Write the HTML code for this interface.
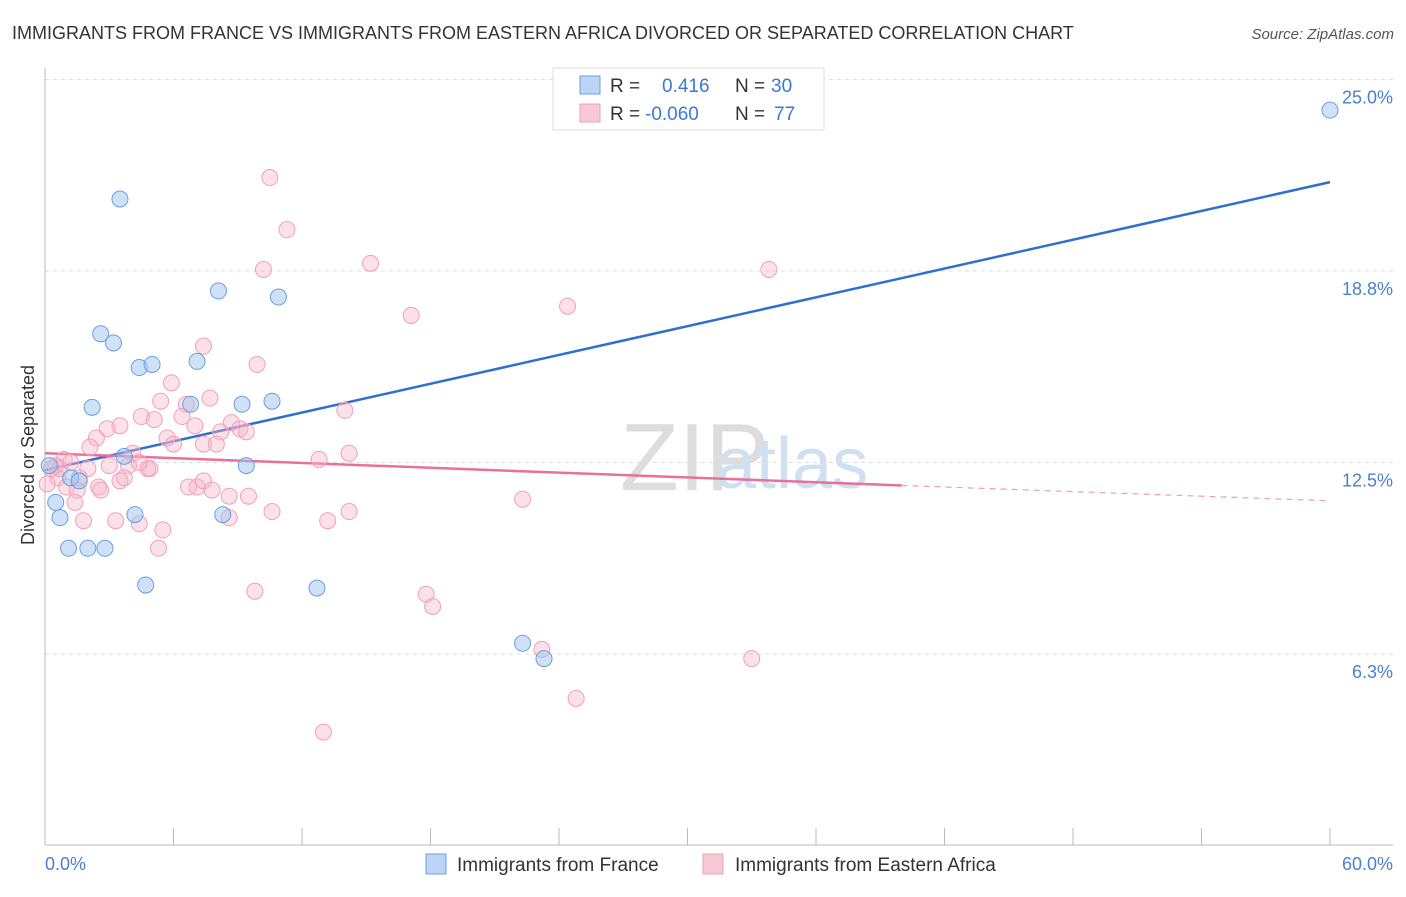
<!DOCTYPE html>
<html><head><meta charset="utf-8"><style>
body{margin:0;background:#fff;font-family:"Liberation Sans",sans-serif;}
svg text{font-family:"Liberation Sans",sans-serif;}
</style></head><body>
<svg id="chart" width="1406" height="892">
<text x="12" y="39" font-size="18" fill="#333">IMMIGRANTS FROM FRANCE VS IMMIGRANTS FROM EASTERN AFRICA DIVORCED OR SEPARATED CORRELATION CHART</text>
<text x="1394" y="39" font-size="15" fill="#555" font-style="italic" text-anchor="end">Source: ZipAtlas.com</text>
<text x="620" y="490" font-size="96" fill="#ddd" font-family="Liberation Serif">ZIP</text>
<text x="716" y="488" font-size="72" fill="#cfe0f3">atlas</text>
<g id="grid"></g><g id="axes"></g><g id="trend"></g><g id="pts"></g>
<text transform="translate(34,455) rotate(-90)" font-size="18" fill="#333" text-anchor="middle">Divorced or Separated</text>
<text x="45" y="870" font-size="18" fill="#4a7fd0">0.0%</text>
<text x="1393" y="870" font-size="18" fill="#4a7fd0" text-anchor="end">60.0%</text>
<g>
<rect x="553" y="68" width="271" height="62" fill="#fff" stroke="#ddd"/>
<rect x="580" y="76" width="20" height="18" fill="#bcd5f5" stroke="#6a9fe0"/>
<rect x="580" y="104" width="20" height="18" fill="#f9c8d6" stroke="#f0a0b8"/>
<text x="610" y="92" font-size="19" fill="#333">R = </text><text x="662" y="92" font-size="19" fill="#3a78d8">0.416</text>
<text x="735" y="92" font-size="19" fill="#333">N = </text><text x="771" y="92" font-size="19" fill="#3a78d8">30</text>
<text x="610" y="120" font-size="19" fill="#333">R = </text><text x="645" y="120" font-size="19" fill="#3a78d8">-0.060</text>
<text x="735" y="120" font-size="19" fill="#333">N = </text><text x="774" y="120" font-size="19" fill="#3a78d8">77</text>
</g>
<g>
<rect x="426" y="854" width="20" height="20" fill="#bcd5f5" stroke="#6a9fe0"/>
<text x="457" y="871" font-size="19" fill="#333">Immigrants from France</text>
<rect x="703" y="854" width="20" height="20" fill="#f9c8d6" stroke="#f0a0b8"/>
<text x="735" y="871" font-size="19" fill="#333">Immigrants from Eastern Africa</text>
</g>
</svg>
<script>
const yTicks=[6.25,12.5,18.75,25];
const yTickLabels=["6.3%","12.5%","18.8%","25.0%"];
const xTicks=[0,6,12,18,24,30,36,42,48,54,60];
const franceX=[3.5,8.1,10.9,2.6,3.2,4.4,5.0,7.1,2.2,6.8,9.2,10.6,3.7,9.4,0.5,0.7,1.1,2.0,2.8,4.2,8.3,4.7,12.7,22.3,23.3,31.2,60.0,0.2,1.2,1.6];
const franceY=[21.1,18.1,17.9,16.7,16.4,15.6,15.7,15.8,14.3,14.4,14.4,14.5,12.7,12.4,11.2,10.7,9.7,9.7,9.7,10.8,10.8,8.5,8.4,6.6,6.1,25.0,24.0,12.4,12.0,11.9];
const africaX=[10.5,11.3,10.2,15.2,33.8,24.4,17.1,7.4,9.9,5.9,7.7,5.4,6.6,14.0,3.5,4.5,5.1,6.4,8.7,2.9,7.0,2.4,5.7,9.1,8.2,9.4,6.0,7.4,8.0,4.1,2.1,0.9,0.5,14.2,12.8,2.0,3.0,3.9,4.8,4.9,0.6,1.6,2.5,3.7,1.0,0.1,7.1,7.4,7.8,2.6,1.5,1.4,9.5,22.3,10.6,14.2,1.8,3.3,4.4,13.2,8.6,5.5,5.3,9.8,17.8,18.1,23.2,24.8,33.0,13.0,0.7,1.2,0.3,3.5,4.4,8.6,6.7];
const africaY=[21.8,20.1,18.8,19.0,18.8,17.6,17.3,16.3,15.7,15.1,14.6,14.5,14.4,14.2,13.7,14.0,13.9,14.0,13.8,13.6,13.7,13.3,13.3,13.6,13.5,13.5,13.1,13.1,13.1,12.8,13.0,12.6,12.4,12.8,12.6,12.3,12.4,12.4,12.3,12.3,12.0,12.0,11.7,12.0,11.7,11.8,11.7,11.9,11.6,11.6,11.6,11.2,11.4,11.3,10.9,10.9,10.6,10.6,10.5,10.6,10.7,10.3,9.7,8.3,8.2,7.8,6.4,4.8,6.1,3.7,12.3,12.5,12.3,11.9,12.5,11.4,11.7];
const franceTrend=[[0,12.25],[60,21.65]];
const africaTrend=[[0,12.8],[40,11.75],[60,11.25]];
const NS="http://www.w3.org/2000/svg";
const X=v=>45+v/60*1285;
const Y=v=>845.5-v*30.64;
function mk(tag,attrs,parent){const e=document.createElementNS(NS,tag);for(const k in attrs)e.setAttribute(k,attrs[k]);document.getElementById(parent).appendChild(e);return e;}
yTicks.forEach((t,i)=>{
 const g=mk('line',{x1:45,x2:1393,y1:Y(t),y2:Y(t),stroke:'#ddd','stroke-dasharray':'4,4'},'grid');
 
 
 const l=mk('text',{x:1393,y:Y(t)+24,'font-size':18,fill:'#4a7fd0','text-anchor':'end'},'grid');
 l.textContent=yTickLabels[i];
 
 
});
const xa=mk('line',{x1:45,x2:1393,y1:845,y2:845,stroke:'#bbb'},'axes');


const ya=mk('line',{x1:45,x2:45,y1:68,y2:845,stroke:'#bbb'},'axes');


xTicks.forEach(t=>{
 const k=mk('line',{x1:X(t),x2:X(t),y1:828,y2:845,stroke:'#bbb'},'axes');
 
 
});
const bl=mk('line',{x1:X(franceTrend[0][0]),y1:Y(franceTrend[0][1]),x2:X(franceTrend[1][0]),y2:Y(franceTrend[1][1]),stroke:'#2f6fd0','stroke-width':2.5},'trend');


const pl=mk('line',{x1:X(africaTrend[0][0]),y1:Y(africaTrend[0][1]),x2:X(africaTrend[1][0]),y2:Y(africaTrend[1][1]),stroke:'#e8709a','stroke-width':2.5},'trend');


const pd=mk('line',{x1:X(africaTrend[1][0]),y1:Y(africaTrend[1][1]),x2:X(africaTrend[2][0]),y2:Y(africaTrend[2][1]),stroke:'#e8a0b8','stroke-width':1.2,'stroke-dasharray':'6,5'},'trend');


africaX.forEach((v,i)=>{
 const c=mk('circle',{cx:X(v),cy:Y(africaY[i]),r:8,fill:'rgba(248,180,200,0.4)',stroke:'#f0a0b8','stroke-width':1},'pts');
 
 
});
franceX.forEach((v,i)=>{
 const c=mk('circle',{cx:X(v),cy:Y(franceY[i]),r:8,fill:'rgba(160,196,240,0.5)',stroke:'#6a9fe0','stroke-width':1},'pts');
 
 
});
</script>
</body></html>
